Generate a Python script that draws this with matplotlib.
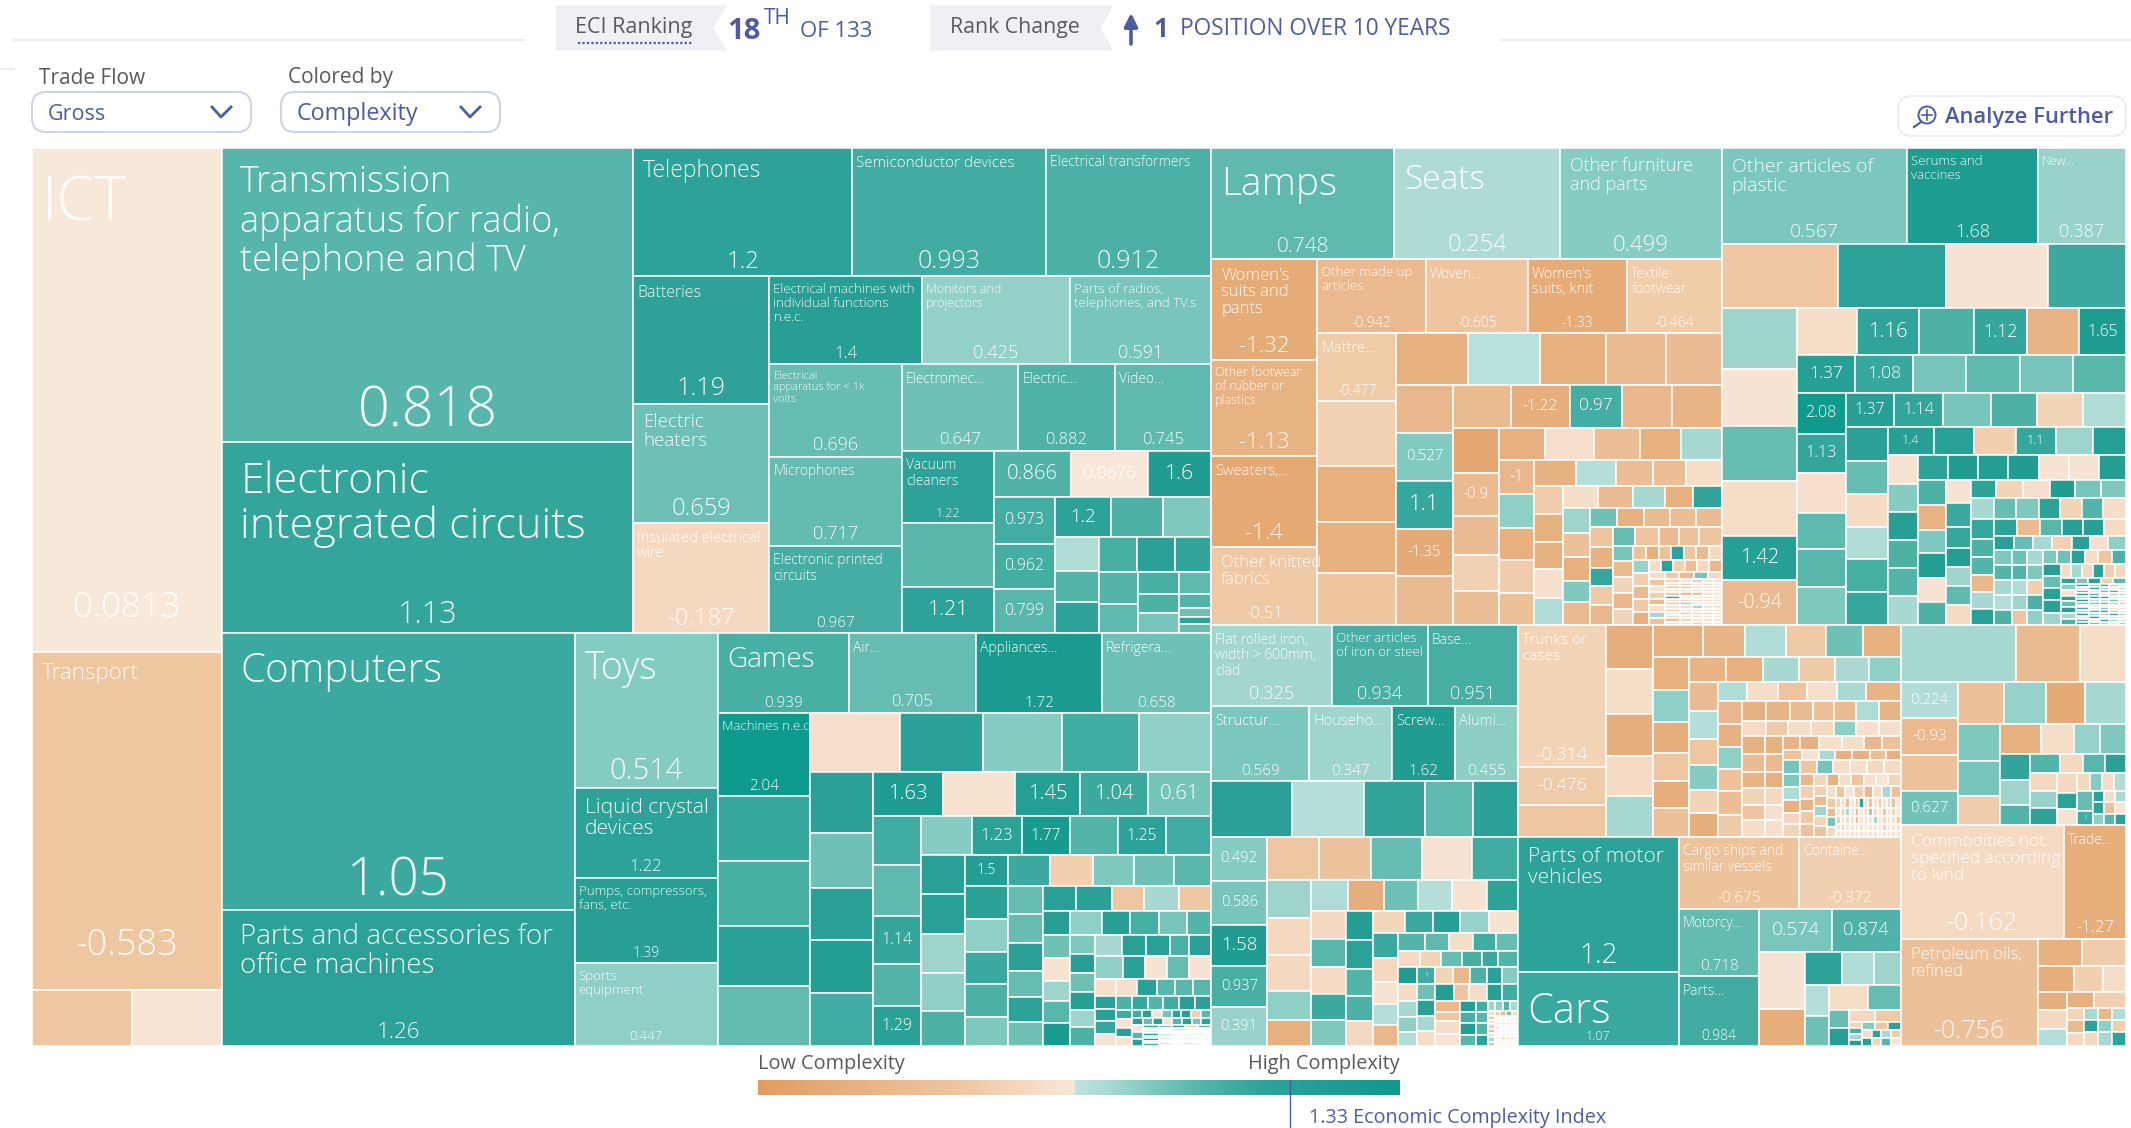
import numpy as np
import matplotlib
matplotlib.use("Agg")
import matplotlib.pyplot as plt
from matplotlib.colors import LinearSegmentedColormap, Normalize
from matplotlib.patches import Rectangle, FancyBboxPatch, Polygon, Circle


def tiles(weight, ecis):
    # a strip of unlabelled products of about the same size
    return [weight] + [(1, e) for e in ecis]


# the long tail of tiny products in the block corners
TAIL_PEACH = [
    tiles(9, [-0.1, -0.6, 0.02, -0.4, -0.9, -0.05, 0.3, -0.7]),
    [30,
     tiles(7, [-0.5, -0.9, 0.6, -0.2]),
     [46,
      tiles(7, [-0.3, -0.05, -0.8, 0.03, -0.4, 1.2, -0.1, -0.6, 0.02, -0.5, 0.03, -0.2, -0.7, 0.02]),
      tiles(6, [0.02, -0.5, 0.3, -0.05, -0.9, 0.02, -0.2, 0.4, -0.1, 0.03, -0.6, 0.02, -0.3, 0.03]),
      tiles(5, [-0.4, 0.03, -0.1, 0.02, -0.7, 0.03, -0.05, 0.02, 0.3, 0.03, -0.2, 0.02, 0.03, -0.5]),
      tiles(5, [0.03, -0.2, 0.03, 0.02, 0.03, -0.1, 0.03, 0.02, 0.03, 0.02, -0.3, 0.03, 0.02, 0.03]),
      tiles(4, [0.03, 0.02, 0.03, 0.03, 0.02, 0.03, 0.03, 0.02, 0.03, 0.03, 0.02, 0.03, 0.03, 0.02])]]]

TAIL_TEAL = [
    tiles(9, [1.2, 0.5, 0.02, 1.3, 0.7, 1.4, 0.3, 0.9]),
    [30,
     tiles(7, [0.6, 1.3, -0.4, 0.8]),
     [46,
      tiles(7, [1.4, 0.03, 0.7, 1.2, 0.3, 1.5, 0.6, -0.5, 1.0, 0.3, 1.3, 0.03, 0.8, 1.2]),
      tiles(6, [0.3, 1.2, 0.03, 0.8, 1.4, 0.25, 0.6, 1.3, 0.02, 0.9, 0.3, 1.4, 0.03, 0.6]),
      tiles(5, [1.1, 0.3, 0.7, 0.03, 1.3, 0.25, 0.8, 0.03, 0.5, 1.2, 0.3, 0.03, 1.3, 0.25]),
      tiles(5, [0.3, 0.03, 0.9, 0.25, 0.03, 0.6, 0.3, -0.3, 0.03, 0.25, 1.1, 0.03, 0.3, 0.03]),
      tiles(4, [0.03, 0.25, 0.03, 0.3, 0.03, 0.03, 0.25, 0.03, 0.03, 0.03, 0.25, 0.03, 0.03, 0.3])]]]

# trade shares: [share, child, child...] or (share, eci, label)
# nested lists alternate between side by side and stacked
SERVICES = [190, (504, 0.0813, "ICT"), (338, -0.583, "Transport"),
            [56, (100, -0.55), (90, 0.02)]]

ELECTRONICS = [485,
    [410, (293, 0.818, "Transmission\napparatus for radio,\ntelephone and TV"),
     (191, 1.13, "Electronic\nintegrated circuits")],
    [577,
     [128, (219, 1.2, "Telephones"), (193, 0.993, "Semiconductor devices"),
      (165, 0.912, "Electrical transformers")],
     [356,
      [136, (127, 1.19, "Batteries"), (119, 0.659, "Electric\nheaters"),
       (110, -0.187, "Insulated electrical\nwire")],
      [440,
       [88, (152, 1.4, "Electrical machines with\nindividual functions\nn.e.c."),
        (147, 0.425, "Monitors and\nprojectors"),
        (141, 0.591, "Parts of radios,\ntelephones, and TV.s")],
       [268,
        [132, (92, 0.696, "Electrical\napparatus for < 1k\nvolts"),
         (89, 0.717, "Microphones"), (87, 0.967, "Electronic printed\ncircuits")],
        [308,
         [86, (116, 0.647, "Electromec..."), (96, 0.882, "Electric..."),
          (96, 0.745, "Video...")],
         [182,
          [92, (72, 1.22, "Vacuum\ncleaners"), (64, 0.8), (46, 1.21, "")],
          [216,
           [46, (76, 0.866, ""), (77, 0.0676, ""), (63, 1.6, "")],
           [136,
            [60, (47, 0.973, ""), (45, 0.962, ""), (44, 0.799, "")],
            [156,
             [40, (56, 1.2, ""), (52, 0.9), (48, 0.55)],
             [96,
              [44, (34, 0.25), (31, 0.85), (31, 1.2)],
              [112,
               [35, (38, 0.95), (38, 1.3), (36, 1.15)],
               [60,
                [39, (31, 0.85), (29, 0.75)],
                [72,
                 [21, (40, 0.95), (32, 0.75)],
                 [39,
                  [28, (19, 0.9), (20, 0.6)],
                  [22, (27, 0.85), (16, 0.65), (13, 1.2), (16, 0.7)
                  ]]]]] ]]]]] ]]]]] ]

MACHINERY_CORNER = [78,
    tiles(10, [1.0, 1.3, 0.03, 0.6, 1.2, 1.4, -0.4, 0.8]),
    [40,
     tiles(11, [1.3, 0.02, 0.8, 1.3]),
     [66,
      tiles(8, [0.7, 1.4, 0.03, 0.8, 1.3, 0.6, 1.2]),
      [22] + TAIL_TEAL]]]

MACHINERY = [413,
    [352, (277, 1.05, "Computers"),
     (136, 1.26, "Parts and accessories for\noffice machines")],
    [143, (155, 0.514, "Toys"), (90, 1.22, "Liquid crystal\ndevices"),
     (85, 1.39, "Pumps, compressors,\nfans, etc."), (83, 0.447, "Sports\nequipment")],
    [493,
     [80, (131, 0.939, "Games"), (127, 0.705, "Air..."),
      (126, 1.72, "Appliances..."), (109, 0.658, "Refrigera...")],
     [333,
      [92, (83, 2.04, "Machines n.e.c."), (65, 1.1), (65, 0.95), (60, 1.35), (60, 0.72)],
      [401,
       [59, (90, -0.05), (83, 1.3), (78, 0.5), (77, 1.0), (72, 0.45)],
       [274,
        [63, (61, 1.3), (55, 0.65), (52, 1.35), (53, 1.5), (53, 1.0)],
        [337,
         [44, (70, 1.63, ""), (71, -0.03), (65, 1.45, ""), (67, 1.04, ""), (63, 0.61, "")],
         [229,
          [48, (48, 1.0), (50, 0.75), (47, 1.14, ""), (42, 0.85), (39, 1.29, "")],
          [288,
           [39, (50, 0.5), (50, 1.23, ""), (47, 1.77, ""), (48, 0.85), (47, 1.25, ""), (45, 1.0)],
           [190,
            [43, (38, 1.35), (39, 1.35), (38, 0.35), (38, 0.45), (34, 0.9)],
            [43, (30, 1.5, ""), (33, 1.3), (32, 0.45), (32, 1.05), (32, 0.9), (29, 0.55)],
            [201,
             [30, (41, 1.05), (43, -0.4), (40, 0.55), (39, 0.65), (37, 0.8)],
             [158,
              [34, (27, 0.7), (28, 0.7), (27, 1.3), (25, 0.7), (24, 1.25), (23, 0.65)],
              [166,
               [25, (33, 1.35), (35, 1.3), (32, -0.55), (34, 0.3), (32, -0.55)],
               [24, (27, 1.4), (31, 0.45), (28, 1.4), (28, 0.95), (27, 0.6), (24, 0.85)],
               [109,
                [27, (22, 0.65), (23, 0.0), (20, 0.35), (21, 0.8), (23, 1.7)],
                [25, (18, 0.55), (18, 1.4), (18, 0.65), (17, 1.4), (16, 0.35), (18, 0.9)],
                [114,
                 [20, (25, 0.3), (22, 1.35), (22, 1.35), (18, 0.9), (20, 1.3)],
                 [23, (25, 0.45), (20, 1.3), (21, 0.0), (20, 0.7), (20, 0.0)],
                 [17, (19, -0.05), (19, -0.05), (18, 1.3), (17, 0.8), (16, 0.8), (17, 0.8)],
                 [49,
                  tiles(20, [1.3, 1.3, 1.1, 0.0]),
                  [94,
                   tiles(14, [0.9, 1.1, 0.85, 1.0, 1.4, 1.3]),
                   [35,
                    tiles(16, [1.0, 0.02, 1.3, 0.0]),
                    MACHINERY_CORNER
                    ]]]]] ]]]]] ]]]]] ]]

TEXTILE_CORNER = [78,
    tiles(20, [0.6, -0.9, -0.3, -1.0, -0.3]),
    [87,
     tiles(14, [-0.7, -1.2, -0.7, 1.2, -0.6, -0.9, -0.2]),
     [64,
      tiles(15, [0.4, -0.4, -0.9, -0.5, -1.2]),
      [72,
       tiles(12, [-0.1, 1.2, -0.4, -0.8, -0.2, -1.0]),
       [50] + TAIL_PEACH]]]]

TEXTILES = [510,
    [111, (183, 0.748, "Lamps"), (166, 0.254, "Seats"),
     (161, 0.499, "Other furniture\nand parts")],
    [366,
     [106, (100, -1.32, "Women's\nsuits and\npants"),
      (96, -1.13, "Other footwear\nof rubber or\nplastics"),
      (90, -1.4, "Sweaters,..."), (78, -0.51, "Other knitted\nfabrics")],
     [404,
      [74, (108, -0.942, "Other made up\narticles"), (102, -0.605, "Woven..."),
       (99, -1.33, "Women's\nsuits, knit"), (94, -0.464, "Textile\nfootwear")],
      [292,
       [79, (68, -0.477, "Mattre..."), (65, -0.35), (55, -1.2), (51, -1.2), (52, -0.6)],
       [325,
        [52, (71, -1.2), (71, 0.15), (65, -1.2), (59, -0.95), (55, -0.85)],
        [240,
         [56, (48, -1.0), (48, 0.527, ""), (48, 1.1, ""), (47, -1.35, ""), (49, -0.9)],
         [267,
          [43, (58, -0.9), (58, -1.22, ""), (52, 0.97, ""), (50, -1.0), (49, -1.1)],
          [197,
           [46, (45, -1.45), (42, -0.9, ""), (39, -0.85), (35, -0.35), (34, -0.8)],
           [221,
            [32, (46, -1.2), (48, -0.05), (46, -0.8), (41, -1.2), (40, 0.3)],
            [165,
             [35, (34, -1, ""), (33, 0.45), (32, -1.2), (32, -0.45), (32, -0.75)],
             [186,
              [26, (41, -1.15), (40, 0.2), (37, -0.8), (33, -0.8), (35, -0.1)],
              [139,
               [29, (28, -0.45), (27, -1.2), (27, -1.2), (28, -0.05), (27, 0.25)],
               [157,
                [22, (34, -0.1), (34, -0.9), (31, 0.3), (27, -1.2), (28, 1.15)],
                [116,
                 [26, (24, 0.35), (23, -0.75), (23, -1.2), (21, 0.55), (22, -0.9)],
                 [131,
                  [19, (27, 0.65), (27, -1.2), (26, -0.9), (26, -0.8), (25, -0.85)],
                  [97,
                   [23, (20, -0.6), (20, -1.15), (18, 1.1), (19, -0.5), (20, -1.0)],
                   [107,
                    [18, (22, 0.7), (23, -0.6), (20, -0.85), (20, -0.7), (22, -0.6)],
                    TEXTILE_CORNER
                    ]]]]] ]]]]] ]]]]] ]]

MISC_CORNER = [73,
    tiles(18, [0.55, 0.85, 0.3, 0.2, 0.9]),
    tiles(14, [0.65, 0.85, 0.25, 0.35, -0.6]),
    tiles(16, [0.3, 0.55, -0.4, 0.9, 0.45]),
    [80,
     tiles(13, [0.55, 0.65, 1.3, -0.1, -0.6, 0.9]),
     [60,
      tiles(14, [1.4, 0.7, 1.3, 1.3, 0.35]),
      [53,
       tiles(12, [-0.1, 0.3, -0.2, 1.2, -0.4, -0.2]),
       [40] + TAIL_TEAL]]]]

MISC = [404,
    [96, (185, 0.567, "Other articles of\nplastic"), (131, 1.68, "Serums and\nvaccines"),
     (88, 0.387, "New...")],
    [64, (116, -0.55), (108, 1.25), (102, 0.0), (78, 1.05)],
    [317,
     [75, (61, 0.35), (57, 0.0), (55, 0.7), (55, -0.1), (44, 1.42, ""), (45, -0.94, "")],
     [329,
      [47, (60, -0.1), (61, 1.16, ""), (55, 0.9), (53, 1.12, ""), (51, -1.1), (47, 1.65, "")],
      [38, (58, 1.37, ""), (57, 1.08, ""), (53, 0.6), (53, 0.75), (53, 0.6), (52, 0.8)],
      [231,
       [49, (40, 2.08, ""), (39, 1.13, ""), (40, -0.05), (36, 0.75), (37, 0.8), (38, 0.55)],
       [280,
        [34, (48, 1.37, ""), (48, 1.14, ""), (47, 0.6), (45, 0.9), (46, -0.3), (42, 0.25)],
        [197,
         [42, (33, 1.3), (33, 0.7), (32, -0.15), (32, 0.25), (32, 0.95), (33, 1.1)],
         [237,
          [27, (45, 1.4, ""), (40, 1.35), (41, -0.4), (39, 1.1, ""), (37, 0.35), (32, 1.45)],
          [169,
           [30, (28, 0.0), (28, 0.5), (27, 1.4), (27, 0.9), (27, 0.85), (28, 0.3)],
           [205,
            [25, (29, 1.2), (30, 1.6), (30, 1.5), (30, 1.6), (30, 0.0), (29, 0.0), (27, 1.5)],
            [143,
             [27, (24, 0.9), (25, -1.1), (22, 0.55), (24, 1.5), (24, 0.0), (22, 0.9)],
             [25, (22, 0.0), (23, 1.05), (20, 1.1), (18, 1.5), (18, 0.35), (18, 0.75), (19, -0.15)],
             [152,
              [18, (24, 1.2), (26, -0.3), (26, -0.05), (24, 1.6), (25, 0.6), (24, 0.55)],
              [124,
               [22, (19, 0.3), (18, 1.1), (17, 0.9), (16, 0.85), (16, -1.0), (15, 0.3), (15, 1.35)],
               [130,
                [20, (20, 0.7), (21, 0.55), (19, 1.2), (20, -0.3), (19, 0.85), (21, -0.1)],
                [17, (21, 1.2), (21, -0.9), (20, 0.8), (19, 1.4), (19, 1.4), (20, -0.15)],
                [14, (18, 1.35), (16, 0.7), (17, 0.3), (17, -0.35), (16, 1.3), (15, -0.05), (16, 0.45)],
                MISC_CORNER
                ]]]]] ]]]]] ]]]

METAL_CORNER = [43,
    [33, (8, -0.95), (7, -0.6), (9, -0.1), (9, 0.02)],
    tiles(22, [1.5, 0.95, 1.5, 0.8]),
    tiles(16, [1.0, 0.8, 0.85, 1.2]),
    [41,
     tiles(10, [0.35, 0.45, 0.85, 0.3]),
     [33] + TAIL_PEACH]]

METALS = [306,
    [81, (121, 0.325, "Flat rolled iron,\nwidth > 600mm,\nclad"),
     (95, 0.934, "Other articles\nof iron or steel"), (90, 0.951, "Base...")],
    [75, (98, 0.569, "Structur..."), (83, 0.347, "Househo..."),
     (62, 1.62, "Screw..."), (63, 0.455, "Alumi...")],
    [55, (81, 1.3), (72, 0.2), (60, 1.15), (48, 0.75), (45, 1.3)],
    [209,
     [56, (44, 0.492, ""), (44, 0.586, ""), (41, 1.58, ""), (41, 0.937, ""), (39, 0.391, "")],
     [250,
      [43, (52, -0.55), (52, -0.65), (50, 0.7), (50, -0.02), (46, 1.0)],
      [166,
       [44, (38, 0.35), (37, -0.2), (36, -0.2), (29, 0.45), (26, -1.2)],
       [206,
        [31, (35, 0.25), (35, -1.25), (33, 0.65), (33, 0.2), (33, 0.0), (30, 1.2)],
        [135,
         [35, (28, -0.2), (28, 0.8), (27, -0.15), (25, 1.05), (26, 0.55)],
         [27, (28, 1.5), (28, 1.25), (27, 0.85), (24, 0.9), (24, -0.2)],
         [144,
          [22, (30, -0.25), (26, 1.05), (26, 1.4), (27, 0.4), (27, 0.0)],
          [113,
           [24, (24, 1.05), (23, -0.2), (21, 0.0), (20, 0.2), (20, -1.0)],
           [118,
            [18, (25, 0.85), (22, 0.75), (22, -0.1), (21, 1.0), (20, 0.7)],
            [16, (20, -0.15), (20, -0.3), (19, 0.7), (18, 0.95), (15, 1.05), (18, 0.85)],
            [77,
             [19, (16, 1.6), (16, -0.15), (15, 0.3), (15, 0.45), (13, 0.2)],
             [18, (16, 1, ""), (15, 0.65), (15, 1.3), (15, 0.3), (14, -0.1)],
             [81,
              [16, (16, -0.3), (15, -1.0), (15, 0.9), (14, 1.3), (14, 0.5)],
              [16, (17, 1.5), (14, -0.6), (16, -0.1), (14, 1.4), (14, 1.0)],
              METAL_CORNER
              ]]]]] ]]]]] ]

GOODS_CORNER = [98,
    tiles(13, [-0.6, 0.6, -0.1, -0.05, -0.2, -0.15]),
    [60,
     tiles(14, [-1.0, -0.4, -1.1, -0.5, -0.7]),
     [84,
      tiles(12, [-0.25, -1.2, -0.1, -0.6, -0.05, 0.02, -0.3]),
      [48,
       tiles(12, [-0.4, -0.9, 0.35, -0.3, -0.7]),
       [72] + TAIL_PEACH]]]]

LIGHT_GOODS = [211,
    [88, (142, -0.314, "Trunks or\ncases"), (38, -0.476, ""), (31, -0.55)],
    [47, (44, -1.25), (45, -0.1), (42, -1.25), (40, -0.15), (40, 0.3)],
    [246,
     [32, (49, -1.2), (41, -1.1), (41, 0.25), (39, -0.5), (37, 0.65), (37, -1.2)],
     [179,
      [35, (33, -1.2), (32, 0.45), (31, -1.25), (28, -0.55), (27, -1.25), (28, -0.75)],
      [210,
       [25, (37, -1.1), (36, -1.2), (35, 0.3), (36, -0.5), (33, 0.27), (31, 0.45)],
       [154,
        [29, (27, -0.85), (26, 0.2), (25, -0.55), (23, 0.5), (22, -0.3), (22, -1.25)],
        [181,
         [19, (24, 0.25), (25, -0.1), (24, -0.6), (24, -0.05), (24, 0.28), (28, -1.1)],
         [134,
          [24, (21, -1.0), (22, -1.15), (20, 0.45), (21, -0.7), (22, -0.8), (20, -0.5)],
          [156,
           [19, (22, -1.2), (22, -1.1), (21, -0.9), (20, -0.75), (20, -0.9), (21, 0.25), (20, -1.1)],
           [15, (22, -0.15), (20, -0.5), (21, -0.1), (21, -0.2), (20, 0.45), (21, -0.05), (20, -0.1)],
           [97,
            [22, (16, -1.15), (16, -0.85), (15, -1.1), (15, -0.3), (14, -0.6), (15, -0.1)],
            [18, (16, -1.15), (16, -0.9), (15, -1.2), (15, -0.2), (14, -0.05), (15, -0.05)],
            [114,
             [13, (16, -1.1), (19, -1.2), (22, -0.05), (21, -0.1), (18, -1.0), (18, -0.7)],
             [10, (16, -0.7), (15, -0.02), (14, 0.3), (15, -1.2), (15, -1.15), (14, -0.8), (13, -1.2)],
             [74,
              [16, (12, 0.6), (12, 0.55), (11, 0.25), (11, -1.2), (10, -0.25), (11, -0.3)],
              GOODS_CORNER
              ]]]]] ]]]]] ]

VEHICLES_CORNER = [24,
    tiles(19, [0.7, 1.4]),
    [51,
     [16, (26, -0.2), (25, -0.5)],
     [33,
      tiles(13, [-0.3, 0.9, 0.3, 1.5]),
      [36,
       tiles(12, [0.5, -0.6, 1.3]),
       tiles(11, [-0.1, 1.2, 0.3, -0.5]),
       tiles(11, [1.3, -0.3, 0.8, 0.03])
       ]]]]

VEHICLES = [209,
    [161, (135, 1.2, "Parts of motor\nvehicles"), (74, 1.07, "Cars")],
    [221,
     [72, (120, -0.675, "Cargo ships and\nsimilar vessels"), (101, -0.372, "Containe...")],
     [137,
      [80, (67, 0.718, "Motorcy..."), (69, 0.984, "Parts...")],
      [141,
       [43, (72, 0.574, ""), (68, 0.874, "")],
       [93,
        [46, (56, 0.0), (36, -1.25)],
        [95,
         [32, (36, 1.2), (32, 0.25), (26, 0.35)],
         [59,
          [24, (29, 0.2), (29, 0.65)],
          [71,
           [17, (37, -0.1), (32, 0.7)],
           VEHICLES_CORNER
           ]]]]] ]]]

RAW_CORNER = [48,
    tiles(16, [-0.2, 0.5, -0.1, 0.25]),
    [31,
     [14, (15, 0.7), (11, 1, "")],
     [30,
      tiles(10, [1.3, -0.1, 0.3]),
      tiles(10, [1.3, -0.7, 0.02]),
      tiles(10, [0.45, 0.8, 1.3])
      ]]]

RAW_MATERIALS = [225,
    [57, (114, 0.3), (63, -0.9), (45, -0.1)],
    [143,
     [57, (36, 0.224, ""), (36, -0.93, ""), (36, -0.7), (34, 0.627, "")],
     [167,
      [42, (45, -0.75), (41, 0.4), (39, -1.35), (40, 0.3)],
      [101,
       [42, (36, 0.55), (33, 0.6), (29, -0.45)],
       [124,
        [29, (39, -1.2), (32, -0.1), (26, 0.4), (25, 0.55)],
        [71,
         [29, (25, 1.15), (24, 0.35), (20, 0.85)],
         [95,
          [19, (28, 0.85), (21, -0.2), (21, 0.8), (19, 1.3)],
          [52,
           [27, (17, -0.2), (16, 0.4), (16, 1.25)],
           [20, (19, -0.2), (15, 1.25), (15, -0.02)],
           RAW_CORNER
           ]]]]] ]],
    [113, (162, -0.162, "Commodities not\nspecified according\nto kind"), (62, -1.27, "Trade...")],
    [107,
     [137, (107, -0.756, "Petroleum oils,\nrefined")],
     [87,
      [27, (43, -1.2), (43, -0.45)],
      [26, (35, -1.25), (28, -0.4), (22, -0.1)],
      [53,
       [28, (16, -1.25), (18, -0.2), (16, 0.2)],
       [57,
        [15, (25, -1.2), (30, -0.4)],
        [38,
         tiles(16, [-0.3, -0.9, -0.2]),
         [40,
          tiles(12, [0.3, -1.0, 0.25]),
          tiles(12, [1.3, 0.45, -0.4]),
          tiles(14, [-0.2, 0.3, 1.2])
          ]]]]] ]]

LOWER_RIGHT = [421, METALS, [382, LIGHT_GOODS, VEHICLES], RAW_MATERIALS]
UPPER_RIGHT = [477, TEXTILES, MISC]

ROOT = [1, SERVICES, [988, ELECTRONICS, MACHINERY], [914, UPPER_RIGHT, LOWER_RIGHT]]

# colour scale, eci -> colour, with the jump between peach and pale teal
ECI_MIN, ECI_MAX = -1.72, 1.96
SCALE_ECI = [-1.72, -1.35, -0.94, -0.58, -0.19, 0.09, 0.1, 0.25, 0.325, 0.5, 0.75, 1.05, 1.2, 1.6, 1.96]
SCALE_COL = ["#E29C5F", "#E5AB76", "#EAB98F", "#EEC6A0", "#F4D9C0", "#F8E8DA", "#BDE4DE", "#AFDCD5",
             "#A3D6CF", "#86CCC2", "#5FB9AE", "#3BA99F", "#2DA298", "#219C91", "#0E9A8C"]
COUNTRY_ECI = 1.33

# label sizes in points: label -> (name, value)
LABEL_PT = {
    "ICT": (44, 25), "Transport": (16, 26),
    "Transmission\napparatus for radio,\ntelephone and TV": (26, 40),
    "Electronic\nintegrated circuits": (31, 22),
    "Computers": (29, 38), "Parts and accessories for\noffice machines": (20, 16),
    "Toys": (27, 21), "Liquid crystal\ndevices": (15, 12),
    "Pumps, compressors,\nfans, etc.": (9.5, 10), "Sports\nequipment": (9.5, 9.5),
    "Telephones": (16.5, 17), "Semiconductor devices": (11, 18),
    "Electrical transformers": (10, 18), "Batteries": (11.5, 18),
    "Electric\nheaters": (13.5, 17), "Insulated electrical\nwire": (10.5, 17),
    "Electrical machines with\nindividual functions\nn.e.c.": (9.5, 12),
    "Monitors and\nprojectors": (9, 13), "Parts of radios,\ntelephones, and TV.s": (9.5, 13),
    "Electrical\napparatus for < 1k\nvolts": (8, 13), "Microphones": (10, 13),
    "Electronic printed\ncircuits": (10, 11), "Electromec...": (10, 12),
    "Electric...": (10, 12), "Video...": (10, 12), "Vacuum\ncleaners": (10, 9),
    "Games": (20, 11), "Air...": (10, 12), "Appliances...": (10, 11), "Refrigera...": (10, 11),
    "Machines n.e.c.": (9.5, 11), "Lamps": (28, 15), "Seats": (24, 17),
    "Other furniture\nand parts": (13, 16), "Other articles of\nplastic": (14, 14),
    "Serums and\nvaccines": (9.5, 13), "New...": (9, 13),
    "Women's\nsuits and\npants": (12, 16), "Other footwear\nof rubber or\nplastics": (9, 16),
    "Sweaters,...": (10.5, 16), "Other knitted\nfabrics": (12, 12),
    "Other made up\narticles": (9.5, 10), "Woven...": (10, 10),
    "Women's\nsuits, knit": (10.5, 10), "Textile\nfootwear": (10, 10), "Mattre...": (10.5, 10),
    "Flat rolled iron,\nwidth > 600mm,\nclad": (10, 13),
    "Other articles\nof iron or steel": (9.5, 13), "Base...": (10, 13),
    "Structur...": (10.5, 11), "Househo...": (10.5, 11), "Screw...": (10.5, 11), "Alumi...": (10.5, 11),
    "Trunks or\ncases": (11, 13), "Parts of motor\nvehicles": (15, 20),
    "Cars": (30, 9), "Cargo ships and\nsimilar vessels": (10, 11), "Containe...": (10, 11),
    "Motorcy...": (10, 11), "Parts...": (10, 10),
    "Commodities not\nspecified according\nto kind": (12.5, 18),
    "Trade...": (10, 12), "Petroleum oils,\nrefined": (12, 18),
}
# labels set further in from the cell edge, values lifted well above the bottom edge
WIDE_PAD = ["Transmission\napparatus for radio,\ntelephone and TV", "Electronic\nintegrated circuits",
            "Computers", "Parts and accessories for\noffice machines"]
LIFTED_VALUE = ["ICT", "Transport"]

plt.rcParams["font.family"] = ["Open Sans", "Noto Sans", "DejaVu Sans"]

fig = plt.figure(figsize=(21.31, 11.28), dpi=100)
ax = fig.add_axes([0, 0, 1, 1])
ax.axis("off")

stops = [(e - ECI_MIN) / (ECI_MAX - ECI_MIN) for e in SCALE_ECI]
cmap = LinearSegmentedColormap.from_list("eci", list(zip(stops, SCALE_COL)), N=1024)
norm = Normalize(ECI_MIN, ECI_MAX)


def draw_leaf(leaf, x, y, w, h):
    eci = leaf[1]
    ax.add_patch(Rectangle((x, y), w, h, facecolor=cmap(norm(eci)), edgecolor="white", lw=1.1))
    if len(leaf) < 3:
        return
    label = leaf[2]
    value = str(eci)
    if label == "":
        size = min(w / len(value) * 0.95, h * 0.33, 17)
        ax.text(x + w / 2, y + h / 2, value, color="white", fontsize=size, ha="center",
                va="center", fontweight="light")
        return
    name_pt, value_pt = LABEL_PT.get(label, (10, 10))
    if label in WIDE_PAD:
        pad = 18
    else:
        pad = 10 if name_pt >= 12 else 4
    ax.text(x + pad, y + name_pt * 0.55 + 2, label, color="white", fontsize=name_pt, ha="left",
            va="top", linespacing=1.06, fontweight="light", alpha=0.93)
    lift = 35 if label in LIFTED_VALUE else 3 + value_pt * 0.3
    ax.text(x + w / 2, y + h - lift, value, color="white", fontsize=value_pt, ha="center",
            va="baseline", fontweight="light", alpha=0.93)


def lay_out(node, x, y, w, h, across):
    children = node[1:]
    total = sum(c[0] for c in children)
    for c in children:
        share = c[0] / total
        cw = w * share if across else w
        ch = h if across else h * share
        if isinstance(c, list):
            lay_out(c, x, y, cw, ch, not across)
        else:
            draw_leaf(c, x, y, cw, ch)
        if across:
            x += cw
        else:
            y += ch


lay_out(ROOT, 32, 148, 2094, 898, True)

# header
GREY = "#EEF0F4"
TXT = "#5A5A5A"
BLUE = "#4F5D9E"
ax.plot([14, 525], [40, 40], color="#EDEDED", lw=1.5)
ax.plot([1500, 2131], [40, 40], color="#EDEDED", lw=1.5)
ax.plot([0, 14], [69, 69], color="#EDEDED", lw=1.5)
ax.add_patch(Polygon([(557, 6), (726, 6), (712, 28), (726, 50), (557, 50)], color=GREY))
ax.add_patch(Polygon([(931, 6), (1112, 6), (1100, 28), (1112, 50), (931, 50)], color=GREY))
ax.text(634, 27, "ECI Ranking", color=TXT, fontsize=15.5, ha="center", va="center")
ax.plot([578, 692], [43, 43], color=BLUE, lw=1.6, ls=(0, (1, 1)))
ax.text(727, 39, "18", color=BLUE, fontsize=21, fontweight="bold", va="baseline")
ax.text(764, 24, "TH", color=BLUE, fontsize=15, va="baseline")
ax.text(800, 37, "OF 133", color=BLUE, fontsize=16, va="baseline")
ax.text(1015, 28, "Rank Change", color=TXT, fontsize=15.3, ha="center", va="center")
ax.annotate("", xy=(1131, 13), xytext=(1131, 44),
            arrowprops=dict(arrowstyle="-|>", color=BLUE, lw=2.6, mutation_scale=20, shrinkA=0, shrinkB=0))
ax.text(1153, 37, "1", color=BLUE, fontsize=19, fontweight="bold", va="baseline")
ax.text(1180, 35, "POSITION OVER 10 YEARS", color=BLUE, fontsize=16.3, va="baseline")

# dropdowns
for x0, title, choice, size in [(32, "Trade Flow", "Gross", 15.5), (281, "Colored by", "Complexity", 16.8)]:
    ax.text(x0 + 7, 78, title, color=TXT, fontsize=15, va="center")
    ax.add_patch(FancyBboxPatch((x0, 92), 219, 40, boxstyle="round,pad=0,rounding_size=14",
                                fc="white", ec="#CFD3E6", lw=1.5))
    ax.text(x0 + 16, 114, choice, color=BLUE, fontsize=size, va="center")
    ax.plot([x0 + 180, x0 + 189, x0 + 199], [107, 117, 107], color=BLUE, lw=2)

# analyze button
ax.add_patch(FancyBboxPatch((1898, 96), 228, 40, boxstyle="round,pad=0,rounding_size=14",
                            fc="white", ec="#EDEEF3", lw=1.5))
ax.add_patch(Circle((1927, 115), 8.5, fc="none", ec=BLUE, lw=1.4))
ax.plot([1921, 1914], [122, 127], color=BLUE, lw=1.6)
ax.plot([1922, 1932], [115, 115], color=BLUE, lw=1.2)
ax.plot([1927, 1927], [110, 120], color=BLUE, lw=1.2)
ax.text(1945, 117, "Analyze Further", color=BLUE, fontsize=15.8, fontweight="semibold", va="center")

# legend
scale = np.linspace(ECI_MIN, ECI_MAX, 642)[None, :]
ax.imshow(scale, cmap=cmap, norm=norm, extent=(758, 1400, 1095, 1080), aspect="auto", zorder=2)
ax.text(758, 1064, "Low Complexity", color=TXT, fontsize=14.3, va="center")
ax.text(1400, 1064, "High Complexity", color=TXT, fontsize=14.3, ha="right", va="center")
marker_x = 758 + 642 * (COUNTRY_ECI - ECI_MIN) / (ECI_MAX - ECI_MIN)
ax.plot([marker_x, marker_x], [1080, 1128], color=BLUE, lw=1, zorder=3)
ax.text(marker_x + 19, 1118, f"{COUNTRY_ECI} Economic Complexity Index", color=BLUE, fontsize=14.2, va="center")

ax.set_xlim(0, 2131)
ax.set_ylim(1128, 0)
fig.savefig("out.png", dpi=100)
plt.close(fig)
